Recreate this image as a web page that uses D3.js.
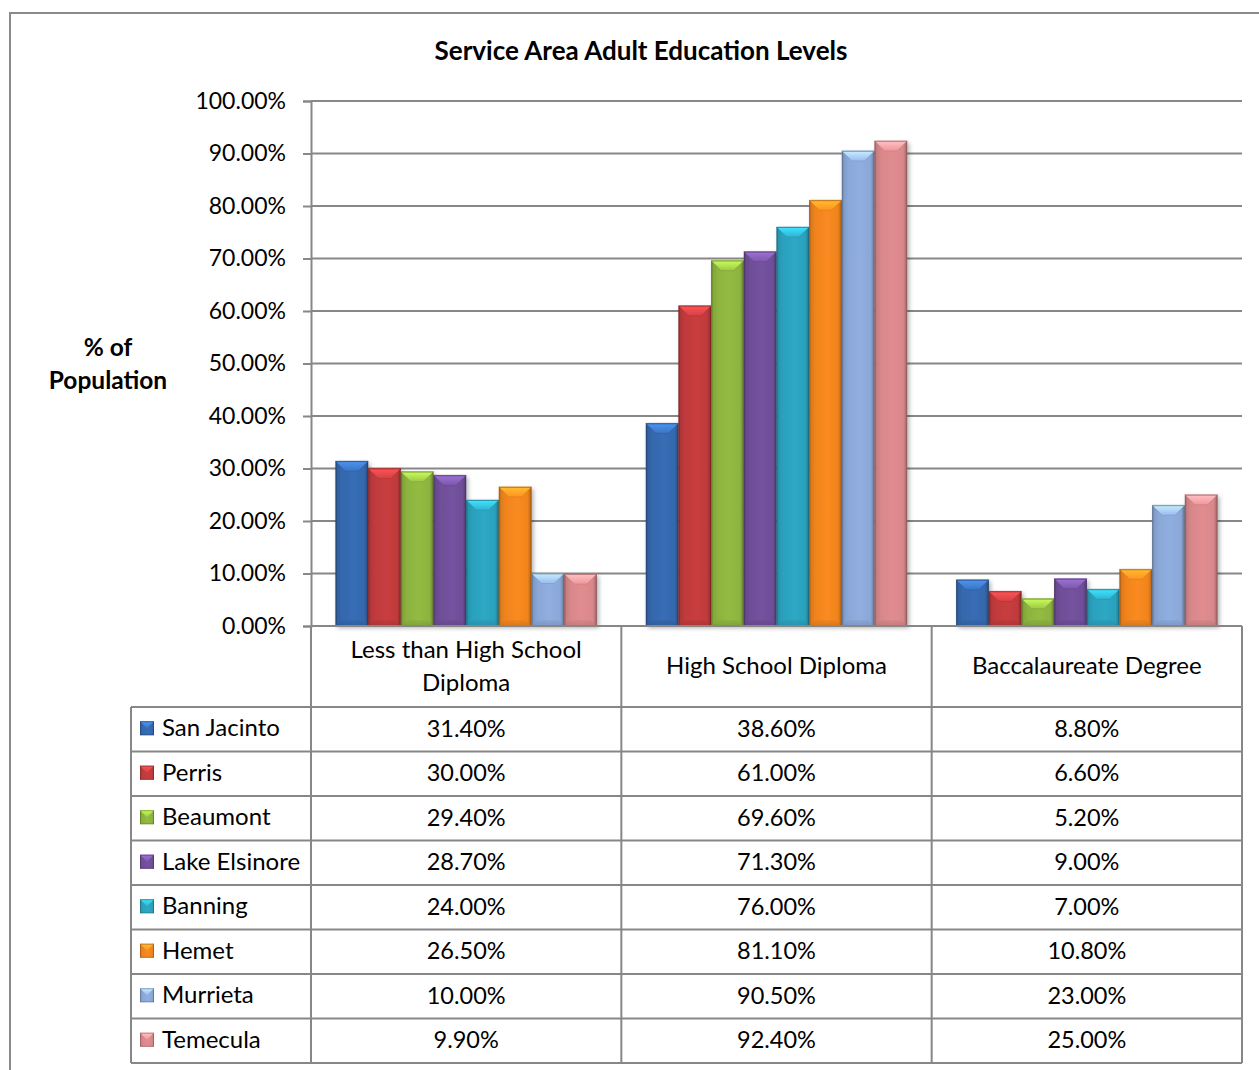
<!DOCTYPE html>
<html>
<head>
<meta charset="utf-8">
<script src="https://cdn.jsdelivr.net/npm/d3@7"></script>
<style>
  html, body { margin: 0; padding: 0; background: #fff; }
  svg { display: block; }
  text { font-family: Lato, "Open Sans", sans-serif; fill: #000; }
</style>
</head>
<body>
<svg id="chart" width="1259" height="1070"></svg>
<script>
// Education level categories (x axis / table columns)
const categories = ["Less than High School Diploma", "High School Diploma", "Baccalaureate Degree"];
const categoryLines = [["Less than High School", "Diploma"], ["High School Diploma"], ["Baccalaureate Degree"]];

// Cities (series / table rows)
const cities = ["San Jacinto", "Perris", "Beaumont", "Lake Elsinore", "Banning", "Hemet", "Murrieta", "Temecula"];
const cityColors = ["#3568ad", "#c03a3c", "#8db33f", "#6f4f98", "#2ba1bd", "#f0841f", "#8aa7d7", "#d8878a"];

// Percent of adult population, one value per city, per education level
const lessThanHighSchool = [31.4, 30.0, 29.4, 28.7, 24.0, 26.5, 10.0, 9.9];
const highSchoolDiploma = [38.6, 61.0, 69.6, 71.3, 76.0, 81.1, 90.5, 92.4];
const baccalaureate = [8.8, 6.6, 5.2, 9.0, 7.0, 10.8, 23.0, 25.0];

const yTicks = [0, 10, 20, 30, 40, 50, 60, 70, 80, 90, 100];

const valuesByCategory = [lessThanHighSchool, highSchoolDiploma, baccalaureate];

const svg = d3.select("#chart");
const grid = "#878787";

// Layout
const plotLeft = 311, plotRight = 1242, plotTop = 101, plotBottom = 626;
const tableLeft = 131, headerBottom = 707, rowH = 44.5;

const y = d3.scaleLinear().domain([0, 100]).range([plotBottom, plotTop]);
const x0 = d3.scaleBand().domain(categories).range([plotLeft, plotRight]);
const barW = x0.bandwidth() / 9.5;
const x1 = d3.scaleBand().domain(cities).range([barW * 0.75, x0.bandwidth() - barW * 0.75]);
const color = d3.scaleOrdinal().domain(cities).range(cityColors);

// Outer chart frame
svg.append("rect").attr("x", 10).attr("y", 13).attr("width", 1300).attr("height", 1100)
  .attr("fill", "none").attr("stroke", "#8a8a8a").attr("stroke-width", 2);

// Title
svg.append("text").attr("x", 641).attr("y", 60).attr("text-anchor", "middle")
  .style("font-weight", "bold").style("font-size", "26px")
  .text("Service Area Adult Education Levels");

// Y axis title
const yt = svg.append("text").attr("text-anchor", "middle")
  .style("font-weight", "bold").style("font-size", "24.5px");
yt.append("tspan").attr("x", 108).attr("y", 356).text("% of");
yt.append("tspan").attr("x", 108).attr("y", 389).text("Population");

// Gridlines
svg.append("g").selectAll("line").data(yTicks.filter(d => d > 0)).join("line")
  .attr("x1", plotLeft).attr("x2", plotRight)
  .attr("y1", d => y(d)).attr("y2", d => y(d))
  .attr("stroke", grid).attr("stroke-width", 2);

// Y axis
const yAxis = d3.axisLeft(y).tickValues(yTicks).tickSize(8).tickPadding(17)
  .tickFormat(d => d.toFixed(2) + "%");
const gy = svg.append("g").attr("transform", `translate(${plotLeft},0)`).call(yAxis);
gy.select(".domain").attr("stroke", grid).attr("stroke-width", 2);
gy.selectAll(".tick line").attr("stroke", grid).attr("stroke-width", 2);
gy.selectAll(".tick text").style("font-size", "23px").style("font-family", "Lato, sans-serif").attr("fill", "#000");

// Gradients for bevelled bars
const defs = svg.append("defs");
cities.forEach((c, i) => {
  const base = d3.color(cityColors[i]);
  const g = defs.append("linearGradient").attr("id", "body" + i).attr("x1", 0).attr("x2", 1).attr("y1", 0).attr("y2", 0);
  [[0, base.darker(0.9)], [0.07, base.darker(0.2)], [0.2, base], [0.55, base.brighter(0.12)], [0.88, base], [0.95, base.darker(0.45)], [1, base.darker(1.1)]]
    .forEach(([o, col]) => g.append("stop").attr("offset", o).attr("stop-color", col));
  const t = defs.append("linearGradient").attr("id", "top" + i).attr("x1", 0).attr("x2", 0).attr("y1", 0).attr("y2", 1);
  t.append("stop").attr("offset", 0).attr("stop-color", base.brighter(1.0));
  t.append("stop").attr("offset", 1).attr("stop-color", base.brighter(0.3));
  const b = defs.append("linearGradient").attr("id", "bot" + i).attr("x1", 0).attr("x2", 0).attr("y1", 0).attr("y2", 1);
  b.append("stop").attr("offset", 0).attr("stop-color", base.darker(0.1));
  b.append("stop").attr("offset", 1).attr("stop-color", base.darker(0.5));
});
const shadow = defs.append("filter").attr("id", "shadow").attr("x", "-20%").attr("y", "-20%").attr("width", "160%").attr("height", "160%");
shadow.append("feDropShadow").attr("dx", 2).attr("dy", 2).attr("stdDeviation", 2)
  .attr("flood-color", "#000").attr("flood-opacity", 0.3);

// Bars
const barData = [];
categories.forEach((cat, ci) => {
  cities.forEach((city, si) => {
    barData.push({ cat, city, si, value: valuesByCategory[ci][si] });
  });
});

const bars = svg.append("g").selectAll("g").data(barData).join("g")
  .attr("transform", d => `translate(${x0(d.cat) + x1(d.city)},0)`);

const bw = x1.bandwidth();
const bev = 10;
bars.append("rect")
  .attr("x", 0).attr("y", d => y(d.value)).attr("width", bw).attr("height", d => y(0) - y(d.value))
  .attr("fill", d => `url(#body${d.si})`).attr("filter", "url(#shadow)");
bars.append("path")
  .attr("d", d => {
    const h = y(0) - y(d.value), b = Math.min(bev * 0.6, h / 4), y0 = y(0);
    return `M0,${y0}L${bw},${y0}L${bw - b},${y0 - b}L${b},${y0 - b}Z`;
  })
  .attr("fill", d => `url(#bot${d.si})`).attr("opacity", 0.6);
// Top bevel facet with darker diagonal edges
bars.append("path")
  .attr("d", d => {
    const h = y(0) - y(d.value), b = Math.min(bev, h / 2.5), t = y(d.value);
    return `M0,${t}L${bw},${t}L${bw - b},${t + b}L${b},${t + b}Z`;
  })
  .attr("fill", d => `url(#top${d.si})`)
  .attr("stroke", d => d3.color(color(d.city)).darker(0.4)).attr("stroke-width", 0.8).attr("stroke-opacity", 0.6);
bars.append("rect")
  .attr("x", 0.5).attr("y", d => y(d.value) + 0.5).attr("width", bw - 1).attr("height", d => y(0) - y(d.value) - 1)
  .attr("fill", "none").attr("stroke", d => d3.color(color(d.city)).darker(1.2)).attr("stroke-opacity", 0.55).attr("stroke-width", 1);

// Data table
const table = svg.append("g");
const rowY = i => headerBottom + i * rowH;
const tableBottom = rowY(cities.length);
const colEdges = [plotLeft, ...categories.map(c => x0(c) + x0.bandwidth())];

// Horizontal rules
table.append("line").attr("x1", plotLeft).attr("x2", plotRight).attr("y1", plotBottom).attr("y2", plotBottom)
  .attr("stroke", grid).attr("stroke-width", 2);
d3.range(cities.length + 1).forEach(i => {
  table.append("line").attr("x1", tableLeft).attr("x2", plotRight).attr("y1", rowY(i)).attr("y2", rowY(i))
    .attr("stroke", grid).attr("stroke-width", 2);
});
// Vertical rules
colEdges.forEach(xv => {
  table.append("line").attr("x1", xv).attr("x2", xv).attr("y1", plotBottom).attr("y2", tableBottom)
    .attr("stroke", grid).attr("stroke-width", 2);
});
table.append("line").attr("x1", tableLeft).attr("x2", tableLeft).attr("y1", headerBottom).attr("y2", tableBottom)
  .attr("stroke", grid).attr("stroke-width", 2);

// Column headers
categories.forEach((cat, ci) => {
  const cx = x0(cat) + x0.bandwidth() / 2;
  const lines = categoryLines[ci];
  const midY = (plotBottom + headerBottom) / 2;
  lines.forEach((ln, li) => {
    table.append("text").attr("x", cx)
      .attr("y", midY + (li - (lines.length - 1) / 2) * 33)
      .attr("dy", "0.32em").attr("text-anchor", "middle").style("font-size", "24px").text(ln);
  });
});

// Row legend keys and names
cities.forEach((city, si) => {
  const cy = rowY(si) + rowH / 2;
  const k = 14, kx = 140, ky = cy - 8;
  const key = table.append("g");
  key.append("rect").attr("x", kx).attr("y", ky).attr("width", k).attr("height", k)
    .attr("fill", `url(#body${si})`);
  key.append("path").attr("d", `M${kx},${ky}L${kx + k},${ky}L${kx + k / 2},${ky + k / 2}Z`)
    .attr("fill", `url(#top${si})`);
  key.append("rect").attr("x", kx + 0.5).attr("y", ky + 0.5).attr("width", k - 1).attr("height", k - 1)
    .attr("fill", "none").attr("stroke", d3.color(cityColors[si]).darker(1)).attr("stroke-opacity", 0.6);
  table.append("text").attr("x", 162).attr("y", cy).attr("dy", "0.3em")
    .style("font-size", "24px").text(city);
  categories.forEach((cat, ci) => {
    table.append("text").attr("x", x0(cat) + x0.bandwidth() / 2).attr("y", cy).attr("dy", "0.32em")
      .attr("text-anchor", "middle").style("font-size", "23.5px")
      .text(valuesByCategory[ci][si].toFixed(2) + "%");
  });
});
</script>
</body>
</html>
